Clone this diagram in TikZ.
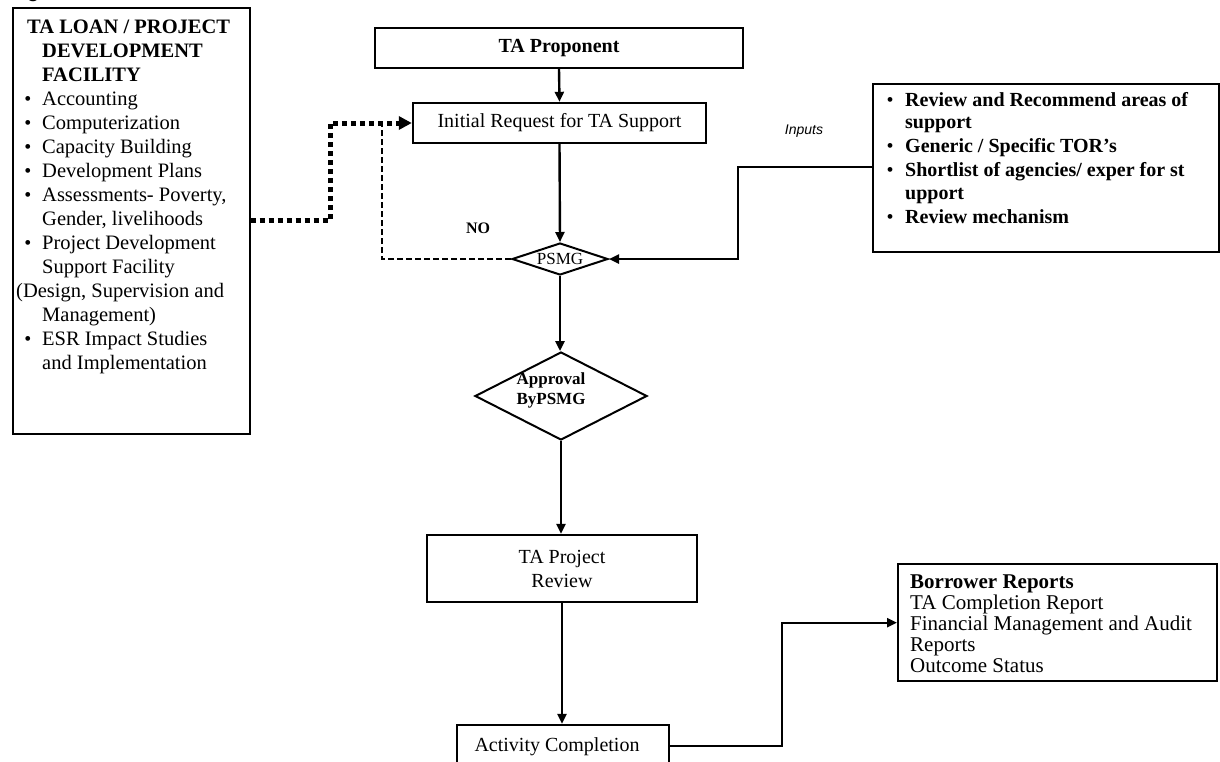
\documentclass[tikz,border=0pt]{standalone}
\usepackage{fontspec}
\setmainfont{Liberation Serif}
\newfontfamily\sansf{Liberation Sans}
\usetikzlibrary{shapes.geometric,arrows.meta}
\begin{document}
\begin{tikzpicture}[x=1pt,y=-1pt,
  box/.style={draw, line width=2.4pt, inner sep=0pt},
  thinbox/.style={draw, line width=1.6pt, inner sep=0pt},
  dia/.style={draw, diamond, line width=2pt, inner sep=0pt},
  flow/.style={line width=2.4pt, -{Triangle[length=10pt,width=9pt]}},
  dots/.style={line width=5pt, dash pattern=on 5pt off 4pt, -{Triangle[length=13pt,width=13pt]}},
  nodash/.style={line width=1.6pt, dash pattern=on 6pt off 3pt},
  ltxt/.style={font=\fontsize{20.5}{24}\selectfont, inner sep=0pt, anchor=base west},
  btxt/.style={font=\fontsize{20.5}{24}\selectfont\bfseries, inner sep=0pt, anchor=base west},
  bul/.style={font=\fontsize{20}{20}\selectfont, inner sep=0pt, anchor=base},
  itxt/.style={font=\fontsize{20}{23}\selectfont\bfseries, inner sep=0pt, anchor=base west},
  rtxt/.style={font=\fontsize{21}{22}\selectfont, inner sep=0pt, anchor=base west},
  ctxt/.style={font=\fontsize{20}{24}\selectfont, inner sep=0pt, align=center}
]
\useasboundingbox (0,0) rectangle (1220,761);
% clipped heading fragment
\begin{scope}
\clip (0,0) rectangle (120,5);
\node[font=\sansf\bfseries\fontsize{20}{24}\selectfont, inner sep=0pt, anchor=base west] (frag) at (27,-3) {g};
\end{scope}

% left box
\node[thinbox, minimum width=237pt, minimum height=426pt, anchor=north west] (lbox) at (12,7) {};
\node[btxt] (l0) at (27,33) {TA LOAN / PROJECT};
\node[btxt] (l1) at (42,57) {DEVELOPMENT};
\node[btxt] (l2) at (42,81) {FACILITY};
\node[bul] (b3) at (28,105) {•}; \node[ltxt] (l3) at (42,105) {Accounting};
\node[bul] (b4) at (28,129) {•}; \node[ltxt] (l4) at (42,129) {Computerization};
\node[bul] (b5) at (28,153) {•}; \node[ltxt] (l5) at (42,153) {Capacity Building};
\node[bul] (b6) at (28,177) {•}; \node[ltxt] (l6) at (42,177) {Development Plans};
\node[bul] (b7) at (28,201) {•}; \node[ltxt] (l7) at (42,201) {Assessments- Poverty,};
\node[ltxt] (l8) at (42,225) {Gender, livelihoods};
\node[bul] (b9) at (28,249) {•}; \node[ltxt] (l9) at (42,249) {Project Development};
\node[ltxt] (l10) at (42,273) {Support Facility};
\node[ltxt] (l11) at (16,297) {(Design, Supervision and};
\node[ltxt] (l12) at (42,321) {Management)};
\node[bul] (b13) at (28,345) {•}; \node[ltxt] (l13) at (42,345) {ESR Impact Studies};
\node[ltxt] (l14) at (42,369) {and Implementation};

% main flow
\node[box, minimum width=368pt, minimum height=40pt] (prop) at (559,48) {};
\node[ctxt, font=\fontsize{20}{24}\selectfont\bfseries] (propt) at (prop) {TA Proponent};
\node[box, minimum width=293pt, minimum height=40pt] (init) at (559.5,123) {};
\node[ctxt] (initt) at (init) {Initial Request for TA Support};
\node[dia, minimum width=96pt, minimum height=32pt] (psmg) at (560,259) {};
\node[ctxt, font=\fontsize{17}{20}\selectfont] (psmgt) at (psmg) {PSMG};
\node[dia, minimum width=172pt, minimum height=88pt] (appr) at (561,396) {};
\node[ctxt, font=\fontsize{17}{20}\selectfont\bfseries] (apprt) at (551,390) {Approval\\ByPSMG};
\node[box, minimum width=270pt, minimum height=67pt] (rev) at (562,568.5) {};
\node[ctxt] (revt) at (rev) {TA Project\\Review};
\node[box, minimum width=212pt, minimum height=42pt] (act) at (563,746) {};
\node[ctxt] (actt) at (557,747) {Activity Completion};

\draw[flow] (prop.south) -- (init.north);
\draw[flow] (init.south) -- (psmg.north);
\draw[flow] (psmg.south) -- (psmg.south |- appr.north);
\draw[flow] (appr.south) -- (appr.south |- rev.north);
\draw[flow] (rev.south) -- (rev.south |- act.north);

% NO label
\node[font=\fontsize{16}{18}\selectfont\bfseries, inner sep=0pt] (no) at (478,228) {NO};

% dotted connector
\coordinate (d1) at (330,123);
\draw[dots] (lbox.east) -| (d1) -- (init.west);
% dashed return
\coordinate (n2) at (382,124);
\draw[nodash] (psmg.west) -| (n2);

% inputs box
\node[box, minimum width=346pt, minimum height=168pt, anchor=north west] (inbox) at (872,83) {};
\node[bul] (ib1) at (890,106) {•}; \node[itxt] (i1t) at (905,106) {Review and Recommend areas of};
\node[itxt] (i2t) at (905,128) {support};
\node[bul] (ib3) at (890,152) {•}; \node[itxt] (i3t) at (905,152) {Generic / Specific TOR’s};
\node[bul] (ib4) at (890,176) {•}; \node[itxt] (i4t) at (905,176) {Shortlist of agencies/ exper for st};
\node[itxt] (i5t) at (905,199) {upport};
\node[bul] (ib6) at (890,223) {•}; \node[itxt] (i6t) at (905,223) {Review mechanism};
\node[font=\sansf\itshape\fontsize{14}{16}\selectfont, inner sep=0pt] (inlab) at (804,131) {Inputs};
\coordinate (ic) at (738,167);
\draw[flow] (inbox.west |- ic) -- (ic) |- (psmg.east);

% borrower box
\node[box, minimum width=319pt, minimum height=117pt, anchor=north west] (borrow) at (897,563) {};
\node[rtxt, font=\fontsize{21}{22}\selectfont\bfseries] (r1) at (910,588) {Borrower Reports};
\node[rtxt] (r2) at (910,609) {TA Completion Report};
\node[rtxt] (r3) at (910,630) {Financial Management and Audit};
\node[rtxt] (r4) at (910,651) {Reports};
\node[rtxt] (r5) at (910,672) {Outcome Status};
\coordinate (bc) at (782,746);
\draw[flow] (act.east) -- (bc) |- (borrow.west);
\end{tikzpicture}
\end{document}
